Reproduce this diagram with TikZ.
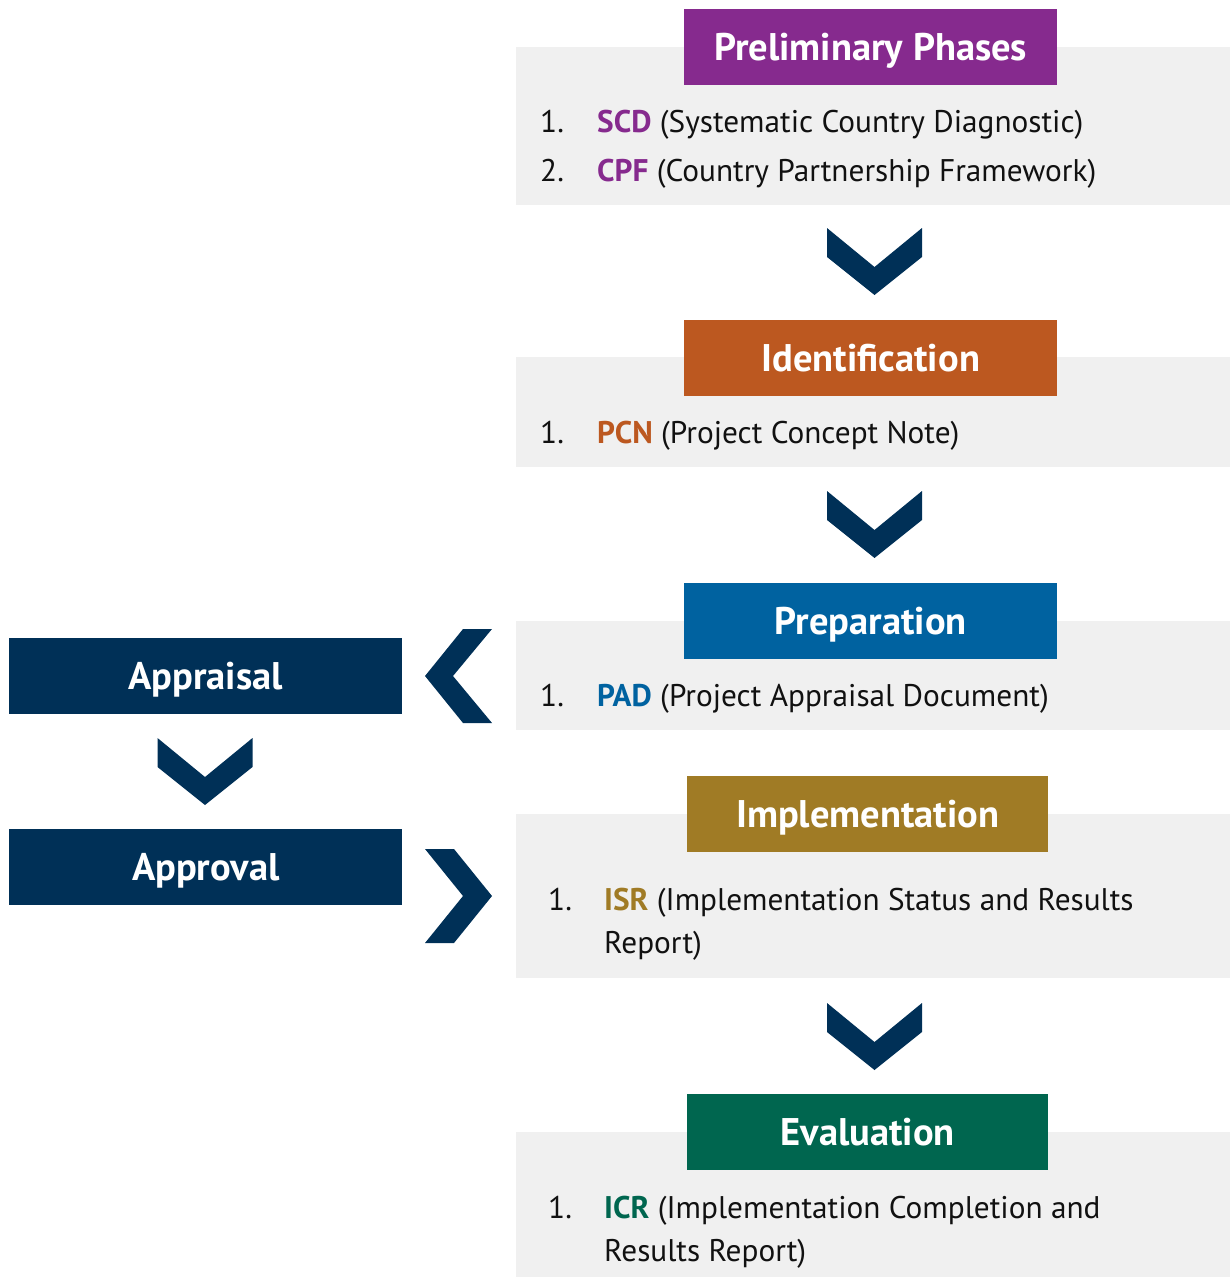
\documentclass[tikz,border=0pt]{standalone}
\usepackage{fontspec}
\setmainfont{PT Sans}
\definecolor{panelgray}{HTML}{F0F0F0}
\definecolor{navy}{HTML}{003057}
\definecolor{cpurple}{HTML}{862A8E}
\definecolor{corange}{HTML}{BC5820}
\definecolor{cblue}{HTML}{0062A0}
\definecolor{cgold}{HTML}{A07B25}
\definecolor{cgreen}{HTML}{00664F}
\definecolor{txt}{HTML}{111111}
\begin{document}
\begin{tikzpicture}[x=1pt,y=-1pt,
  panel/.style={fill=panelgray, draw=none, inner sep=0pt, anchor=north west, minimum width=714pt},
  head/.style={fill=#1, text=white, inner sep=0pt, anchor=north west,
    font=\fontsize{38.5}{42}\selectfont\bfseries, text height=26pt, text depth=0pt,
    minimum height=76pt},
  navybox/.style={head=navy, minimum width=393pt},
  item/.style={anchor=base west, inner sep=0pt, text=txt, font=\fontsize{31.3}{36}\selectfont},
  downchev/.pic={\fill[navy] (-47.5,0) -- (0,39) -- (47.5,0) -- (47.5,29) -- (0,67) -- (-47.5,29) -- cycle;}
]
\useasboundingbox (0,0) rectangle (1230,1277);

% panels
\node[panel, minimum height=158pt] (p1) at (516,47) {};
\node[panel, minimum height=110pt] (p2) at (516,357) {};
\node[panel, minimum height=109pt] (p3) at (516,621) {};
\node[panel, minimum height=164pt] (p4) at (516,814) {};
\node[panel, minimum height=145pt] (p5) at (516,1132) {};

% headers
\node[head=cpurple, minimum width=373pt] (h1) at (684,9) {Preliminary Phases};
\node[head=corange, minimum width=373pt] (h2) at (684,320) {Identification};
\node[head=cblue, minimum width=373pt] (h3) at (684,583) {Preparation};
\node[head=cgold, minimum width=361pt] (h4) at (687,776) {Implementation};
\node[head=cgreen, minimum width=361pt] (h5) at (687,1094) {Evaluation};

\node[navybox] (ap1) at (9,638) {Appraisal};
\node[navybox] (ap2) at (9,829) {Approval};

% list items
\node[item] (n1a) at (540,132) {1.};
\node[item] (t1a) at (597,132) {{\color{cpurple}\bfseries SCD} (Systematic Country Diagnostic)};
\node[item] (n1b) at (540,181) {2.};
\node[item] (t1b) at (597,181) {{\color{cpurple}\bfseries CPF} (Country Partnership Framework)};

\node[item] (n2) at (540,443) {1.};
\node[item] (t2) at (597,443) {{\color{corange}\bfseries PCN} (Project Concept Note)};

\node[item] (n3) at (540,706) {1.};
\node[item] (t3) at (597,706) {{\color{cblue}\bfseries PAD} (Project Appraisal Document)};

\node[item] (n4) at (548,910) {1.};
\node[item] (t4) at (604,910) {{\color{cgold}\bfseries ISR} (Implementation Status and Results};
\node[item] (t4b) at (604,953) {Report)};

\node[item] (n5) at (548,1218) {1.};
\node[item] (t5) at (604,1218) {{\color{cgreen}\bfseries ICR} (Implementation Completion and};
\node[item] (t5b) at (604,1261) {Results Report)};

% chevrons
\pic at (874.5,228) {downchev};
\pic at (874.5,491) {downchev};
\pic at (874.5,1003) {downchev};
\pic at (205,738) {downchev};
\fill[navy] (463,629) -- (492,629) -- (453,676) -- (492,723) -- (463,723) -- (425,676) -- cycle;
\fill[navy] (425,849) -- (454,849) -- (492,896) -- (454,943) -- (425,943) -- (463,896) -- cycle;
\end{tikzpicture}
\end{document}
